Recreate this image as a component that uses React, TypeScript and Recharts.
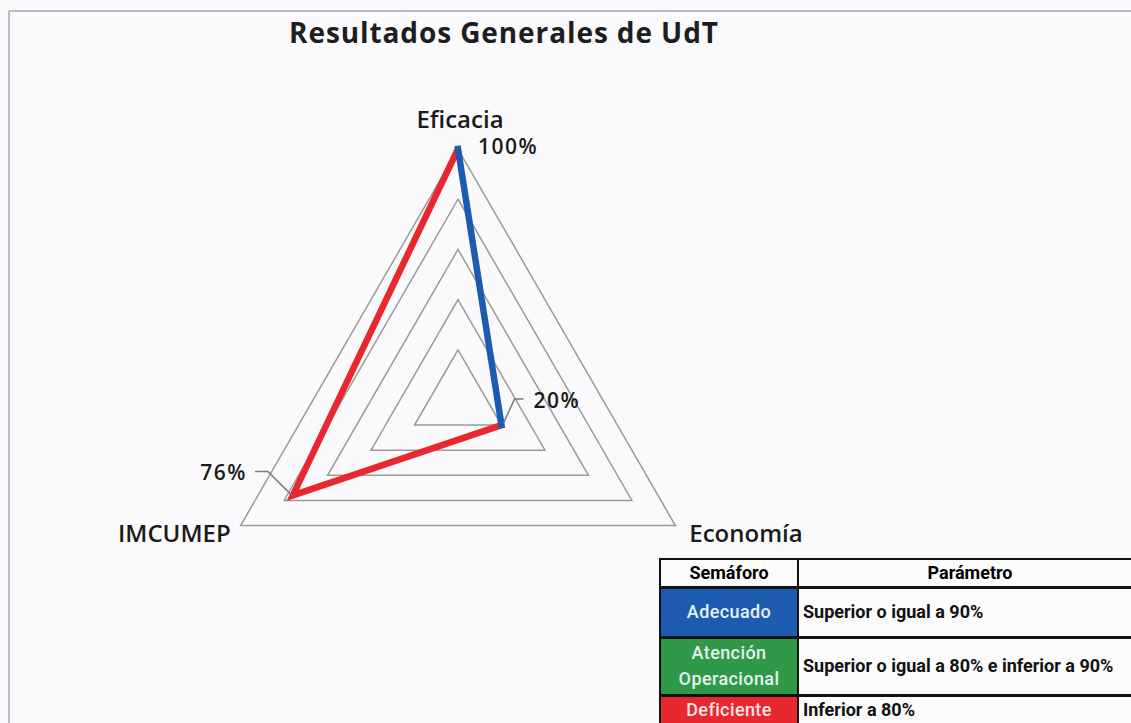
import React from 'react';
import { RadarChart, Radar, PolarGrid, PolarAngleAxis, PolarRadiusAxis } from 'recharts';

// ejes del radar, en sentido horario desde arriba
const ejes = ['Eficacia', 'Economía', 'IMCUMEP'];
const resultados = [100, 20, 76];
const etiquetas = ['100%', '20%', '76%'];

// tabla del semáforo
const semaforos = ['Adecuado', 'Atención Operacional', 'Deficiente'];
const parametros = [
  'Superior o igual a 90%',
  'Superior o igual a 80% e inferior a 90%',
  'Inferior a 80%',
];

const data = ejes.map((eje, i) => ({ eje, valor: resultados[i], etiqueta: etiquetas[i] }));

const AZUL = '#1d5bb0';
const VERDE = '#2f9947';
const ROJO = '#e9272f';
const semaforoColores = [AZUL, VERDE, ROJO];
// color de cada tramo: punto i -> punto i+1
const tramoColores = [AZUL, ROJO, ROJO];

// posición de la etiqueta de valor respecto al vértice (con línea guía opcional)
const etiquetaLayout = [
  { dx: 20, dy: 5, anchor: 'start', guia: null as null | number[][] },
  { dx: 32, dy: -17, anchor: 'start', guia: [[2, -2], [13, -26], [22, -26]] },
  { dx: -46, dy: -15, anchor: 'end', guia: [[-1, 0], [-25, -24], [-38, -24]] },
];

const fuenteEje = '"Open Sans", "Noto Sans", sans-serif';

const TrazoSemaforo = (props: any) => {
  const pts = props.points || [];
  const n = pts.length;
  if (!n) return null;

  // agrupa tramos consecutivos del mismo color en un solo path
  let inicio = 0;
  for (let i = 0; i < n; i++) {
    if (tramoColores[i] !== tramoColores[(i - 1 + n) % n]) { inicio = i; break; }
  }
  const grupos: { color: string; idx: number[] }[] = [];
  for (let k = 0; k < n; k++) {
    const i = (inicio + k) % n;
    const last = grupos[grupos.length - 1];
    if (last && last.color === tramoColores[i]) last.idx.push((i + 1) % n);
    else grupos.push({ color: tramoColores[i], idx: [i, (i + 1) % n] });
  }
  grupos.sort((a) => (a.color === AZUL ? 1 : -1));

  return (
    <g>
      {grupos.map((g, gi) => (
        <path
          key={gi}
          d={g.idx.map((j, k) => `${k ? 'L' : 'M'}${pts[j].x},${pts[j].y}`).join(' ')}
          fill="none"
          stroke={g.color}
          strokeWidth={6.5}
          strokeLinejoin="miter"
          strokeLinecap={g.color === AZUL ? 'square' : 'butt'}
        />
      ))}
      {pts.map((p: any, i: number) => {
        const l = etiquetaLayout[i];
        return (
          <g key={`lbl-${i}`}>
            {l.guia && (
              <polyline
                points={l.guia.map(([gx, gy]) => `${p.x + gx},${p.y + gy}`).join(' ')}
                fill="none"
                stroke="#7c7c7c"
                strokeWidth={1.5}
              />
            )}
            <text
              x={p.x + l.dx}
              y={p.y + l.dy}
              textAnchor={l.anchor as any}
              fontFamily={fuenteEje}
              fontSize={21}
              fontWeight={600}
              letterSpacing={1.5}
              fill="#1a1a1a"
            >
              {p.payload.etiqueta}
            </text>
          </g>
        );
      })}
    </g>
  );
};

const EjeTick = (props: any) => {
  const { x, y, payload, textAnchor } = props;
  const dx = textAnchor === 'start' ? 7 : textAnchor === 'end' ? -3 : 2;
  const dy = textAnchor === 'middle' ? -13 : 12;
  return (
    <text
      x={x + dx}
      y={y + dy}
      textAnchor={textAnchor}
      fontFamily={fuenteEje}
      fontSize={24}
      fontWeight={600}
      fill="#1a1a1a"
    >
      {payload.value}
    </text>
  );
};

const celda: React.CSSProperties = {
  fontFamily: 'Roboto, "Liberation Sans", sans-serif',
  fontWeight: 700,
  fontSize: 18,
  letterSpacing: 0,
  padding: 0,
  lineHeight: '22px',
  whiteSpace: 'nowrap',
};

export default function App() {
  return (
    <div
      style={{
        position: 'absolute',
        left: 0,
        top: 0,
        width: 1131,
        height: 723,
        overflow: 'hidden',
        background: '#fafafc',
      }}
    >
      <svg width={1131} height={723} style={{ position: 'absolute', left: 0, top: 0 }}>
        <line x1={9} y1={11} x2={1131} y2={11} stroke="#a9a9b2" strokeWidth={1.5} />
        <line x1={9} y1={11} x2={9} y2={723} stroke="#a9a9b2" strokeWidth={1.5} />
        <text
          x={504}
          y={43}
          textAnchor="middle"
          fontFamily={fuenteEje}
          fontSize={28}
          fontWeight={700}
          letterSpacing={0.9}
          fill="#1e1e1e"
        >
          Resultados Generales de UdT
        </text>
      </svg>

      <div style={{ position: 'absolute', left: 0, top: 0 }}>
        <RadarChart
          width={1131}
          height={723}
          data={data}
          cx={458}
          cy={400}
          outerRadius={251}
          margin={{ top: 0, right: 0, bottom: 0, left: 0 }}
        >
          <PolarGrid gridType="polygon" radialLines={false} stroke="#9b9b9b" strokeWidth={1.5} />
          <PolarAngleAxis dataKey="eje" tick={<EjeTick />} tickLine={false} axisLine={false} />
          <PolarRadiusAxis angle={90} domain={[0, 100]} tickCount={6} tick={false} axisLine={false} />
          <Radar
            dataKey="valor"
            stroke={ROJO}
            fill="none"
            isAnimationActive={false}
            shape={<TrazoSemaforo />}
          />
        </RadarChart>
      </div>

      <table
        style={{
          position: 'absolute',
          left: 659,
          top: 558,
          width: 484,
          borderCollapse: 'collapse',
          border: '2px solid #111',
          background: '#fbfbfb',
        }}
      >
        <tbody>
          <tr style={{ height: 28, borderBottom: '3px solid #111' }}>
            <td style={{ ...celda, width: 136, textAlign: 'center', borderRight: '2px solid #111' }}>Semáforo</td>
            <td style={{ ...celda, textAlign: 'center' }}>Parámetro</td>
          </tr>
          {semaforos.map((s, i) => (
            <tr
              key={s}
              style={{ height: [50, 58, 30][i], borderBottom: '3px solid #111' }}
            >
              <td
                style={{
                  ...celda,
                  background: semaforoColores[i],
                  color: i === 2 ? '#fde6e6' : '#e4f2f4',
                  fontWeight: 500,
                  textAlign: 'center',
                  letterSpacing: 0.4,
                  borderRight: '2px solid #111',
                  lineHeight: '26px',
                }}
              >
                {s === 'Atención Operacional' ? (
                  <>
                    Atención
                    <br />
                    Operacional
                  </>
                ) : (
                  s
                )}
              </td>
              <td style={{ ...celda, paddingLeft: 4, color: '#111' }}>{parametros[i]}</td>
            </tr>
          ))}
        </tbody>
      </table>
    </div>
  );
}
